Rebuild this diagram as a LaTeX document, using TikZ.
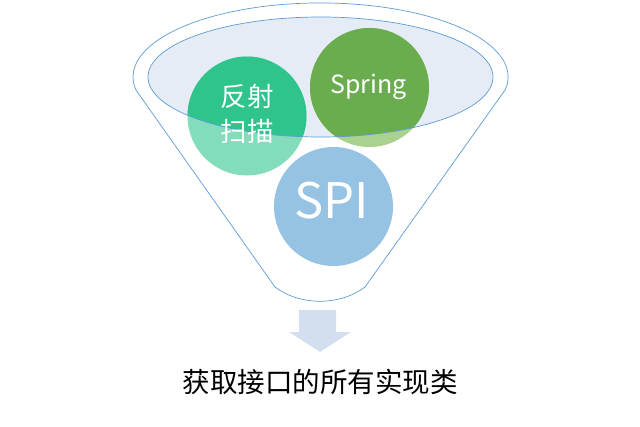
\documentclass[tikz,border=0pt]{standalone}
\usepackage{fontspec}
\setmainfont{Noto Sans CJK SC}
\usepackage{tikz}
\usetikzlibrary{positioning}
\definecolor{funnelline}{HTML}{5B9BD5}
\definecolor{rimfill}{HTML}{E6ECF6}
\definecolor{reflDark}{HTML}{30C48D}
\definecolor{reflLight}{HTML}{83DCBA}
\definecolor{springDark}{HTML}{6AAD4F}
\definecolor{springLight}{HTML}{A9D18F}
\definecolor{spiBlue}{HTML}{96C3E4}
\definecolor{arrowfill}{HTML}{D3DFEE}

\begin{document}
\begin{tikzpicture}[
  x=1pt,y=-1pt,
  %--- shapes ---
  ball/.style   ={circle,draw=none,minimum size=119pt,inner sep=0pt},
  rim/.style    ={draw=funnelline,line width=0.7pt},
  %--- text ---
  balltext/.style={text=white,align=center,inner sep=0pt},
]
\useasboundingbox (0,0) rectangle (640,426);

%==================== funnel body ====================
\draw[rim] (135.8,89.8) -- (275,287)
   .. controls (300,306) and (340,306) .. (365,287)
   -- (505.2,89.8)
   arc[start angle=-10,end angle=190,x radius=187.5pt,y radius=74pt];

%==================== inner rim ====================
\coordinate (top) at (320.5,77);
\fill[rimfill] (top) ellipse[x radius=172.5pt,y radius=60pt];

%==================== balls (lower, outside rim) ====================
\node[ball,fill=reflLight]   (refl)   at (247,116)   {};
\node[ball,fill=springLight] (spring) at (369.5,87.5) {};
\node[ball,fill=spiBlue]     (spi)    at (333.5,206.5) {};

% parts inside the rim are darker
\begin{scope}
  \clip (top) ellipse[x radius=172.5pt,y radius=60pt];
  \fill[reflDark]   (refl.center)   circle[radius=59.5pt];
  \fill[springDark] (spring.center) circle[radius=59.5pt];
\end{scope}

\draw[rim] (top) ellipse[x radius=172.5pt,y radius=60pt];

%==================== labels ====================
\node[balltext,font=\fontsize{26.5pt}{35pt}\selectfont] at (247,114) {反射\\扫描};
\node[balltext,font=\fontsize{25pt}{30pt}\selectfont]   at (368.5,87) {Spring};
\node[balltext,font=\fontsize{49pt}{55pt}\selectfont]   at (332,201) {SPI};

%==================== output ====================
\fill[arrowfill] (299,310) -- (336,310) -- (336,332) -- (351,332)
   -- (320,352) -- (289,332) -- (299,332) -- cycle;
\node[font=\fontsize{27.5pt}{33pt}\selectfont] (result) at (320,382)
  {获取接口的所有实现类};

\end{tikzpicture}
\end{document}
